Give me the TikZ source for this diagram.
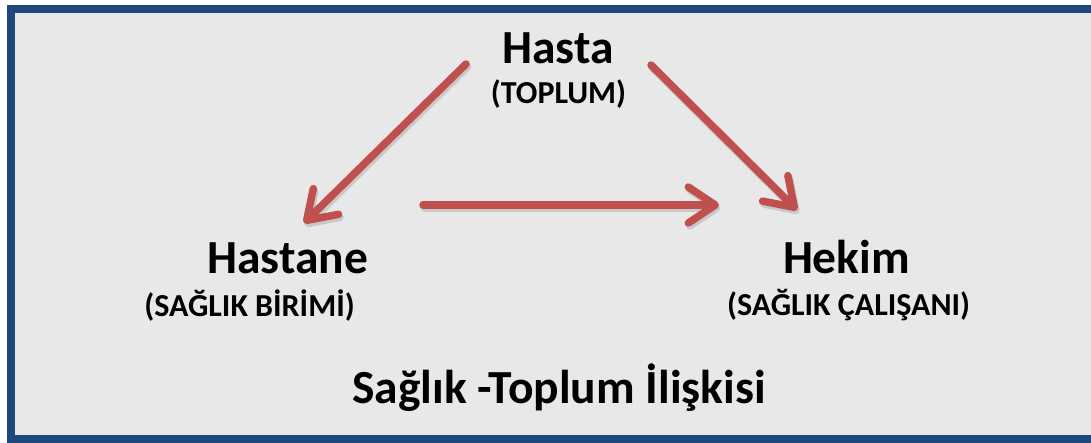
\documentclass[tikz,border=0pt]{standalone}
\usepackage{fontspec}
\setmainfont{Carlito}
\usetikzlibrary{arrows.meta}
\definecolor{frameblue}{HTML}{1F497D}
\definecolor{bggray}{HTML}{E8E8E8}
\definecolor{arrred}{HTML}{C0504D}
\definecolor{shadowgray}{HTML}{C9C9C9}
\begin{document}
\begin{tikzpicture}[x=1pt,y=-1pt,
  bigtext/.style={font=\fontsize{47.5}{52}\selectfont\bfseries, inner sep=0pt, anchor=base},
  smalltext/.style={font=\fontsize{32}{36}\selectfont\bfseries, inner sep=0pt, anchor=base},
  relarrow/.style={draw=arrred, line width=7.5pt, line cap=round, -{Straight Barb[length=27pt, width=36pt, round]}},
  arrshadow/.style={draw=shadowgray, line width=7.5pt, line cap=round, -{Straight Barb[length=27pt, width=36pt, round]}, transform canvas={xshift=1.5pt, yshift=-3pt}},
]
\useasboundingbox (0,0) rectangle (1091,442);
\clip (0,0) rectangle (1091,442);
\fill[white] (0,0) rectangle (1091,442);
\draw[draw=frameblue, fill=bggray, line width=8pt] (11,8.5) rectangle (1110,439);

% text nodes
\node[bigtext]   (hasta)    at (558,63)    {Hasta};
\node[smalltext] (toplum)   at (558.5,103) {(TOPLUM)};
\node[bigtext]   (hastane)  at (287.5,273) {Hastane};
\node[smalltext] (birim)    at (249.5,316) {(SAĞLIK BİRİMİ)};
\node[bigtext]   (hekim)    at (846.5,273) {Hekim};
\node[smalltext] (calisan)  at (848.5,315) {(SAĞLIK ÇALIŞANI)};
\node[bigtext]   (title)    at (559,403)   {Sağlık -Toplum İlişkisi};

% arrow end points
\coordinate (a1s) at (466,64);
\coordinate (a1e) at (304,223);
\coordinate (a2s) at (423,205);
\coordinate (a2e) at (719,205);
\coordinate (a3s) at (651,65);
\coordinate (a3e) at (797,210);

% shadows
\draw[arrshadow] (a1s) -- (a1e);
\draw[arrshadow] (a2s) -- (a2e);
\draw[arrshadow] (a3s) -- (a3e);
% arrows
\draw[relarrow] (a1s) -- (a1e);
\draw[relarrow] (a2s) -- (a2e);
\draw[relarrow] (a3s) -- (a3e);
\end{tikzpicture}
\end{document}
